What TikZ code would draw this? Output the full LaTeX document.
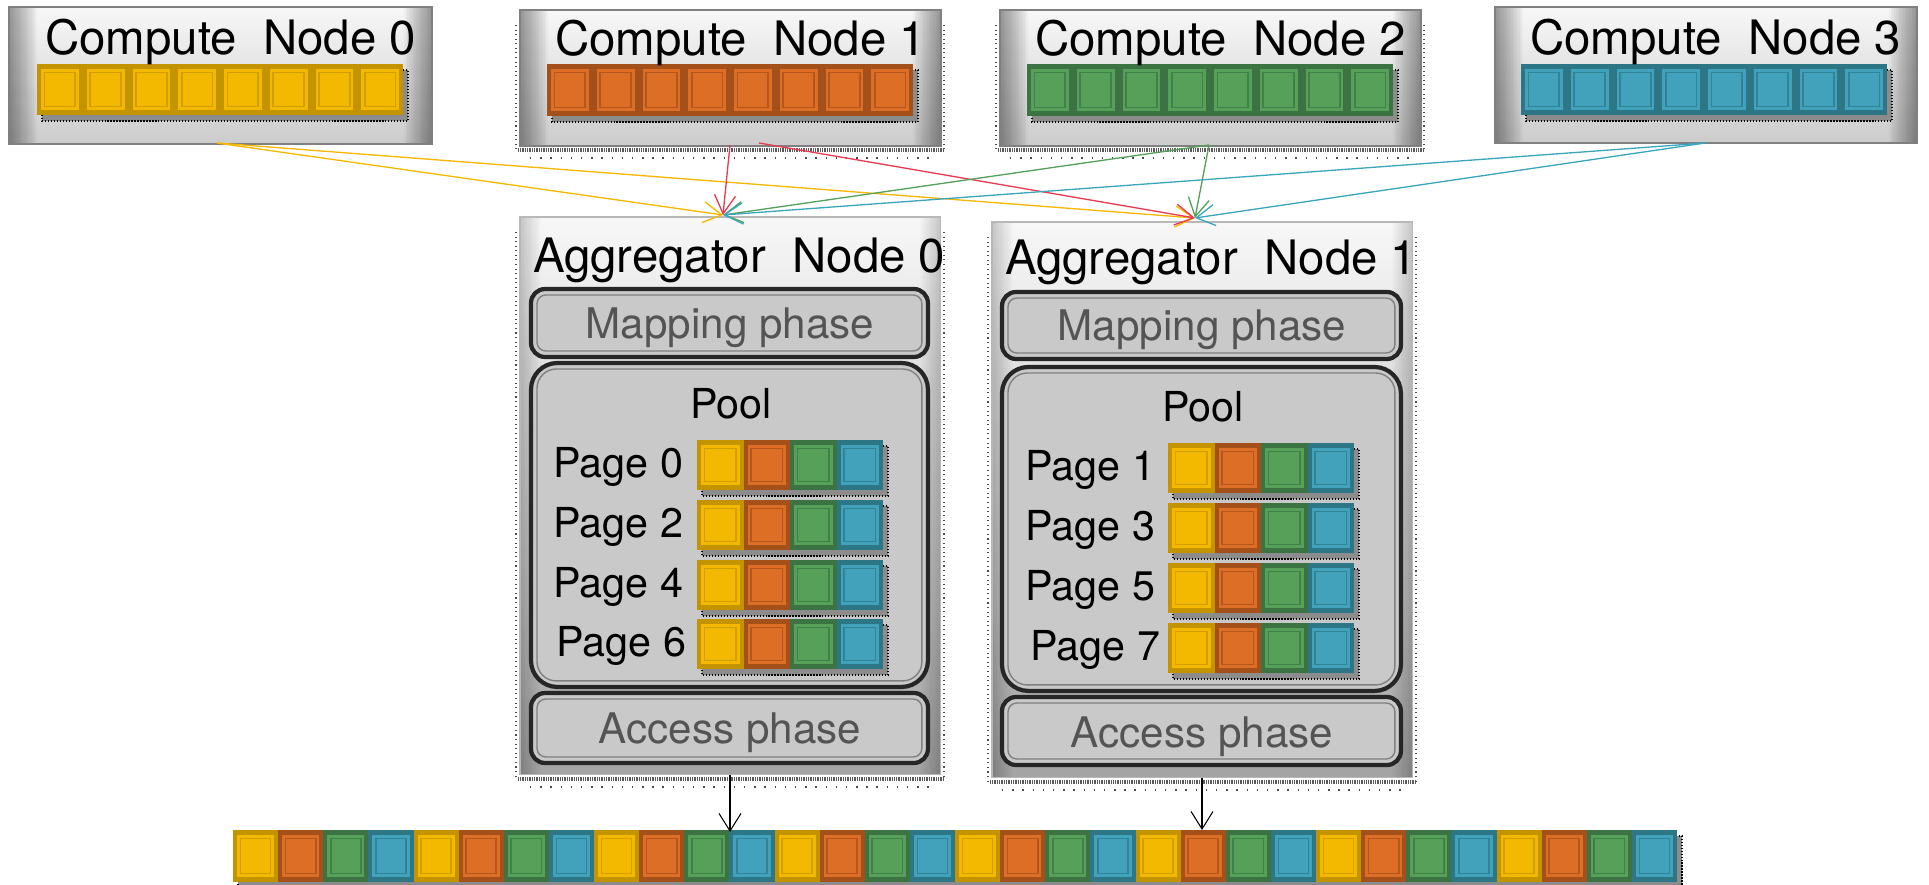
\documentclass[tikz,border=0pt]{standalone}
\usepackage{fontspec}
\setmainfont{TeX Gyre Heros}
\usetikzlibrary{arrows.meta}
\definecolor{D-Y}{HTML}{C39400}
\definecolor{L-Y}{HTML}{F3B800}
\definecolor{M-Y}{HTML}{D29E00}
\definecolor{D-O}{HTML}{A3501B}
\definecolor{L-O}{HTML}{DC6E25}
\definecolor{M-O}{HTML}{B5571D}
\definecolor{D-G}{HTML}{3B7342}
\definecolor{L-G}{HTML}{56A05A}
\definecolor{M-G}{HTML}{42804A}
\definecolor{D-B}{HTML}{2C7686}
\definecolor{L-B}{HTML}{42A2BB}
\definecolor{M-B}{HTML}{318495}
\definecolor{cY}{HTML}{F5B700}
\definecolor{cR}{HTML}{E83A50}
\definecolor{cG}{HTML}{55A05A}
\definecolor{cB}{HTML}{3AA6BE}
% one coloured block: x y w h colour-letter
\newcommand\blk[5]{%
  \fill[D-#5] (#1,#2) rectangle ++(#3,#4);
  \fill[L-#5] (#1+4,#2+5) rectangle (#1+#3-4,#2+#4-5);
  \draw[M-#5, line width=0.9pt] (#1+7.5,#2+8.5) rectangle (#1+#3-7.5,#2+#4-8.5);}
% drop shadow under a row of blocks
\newcommand\rowshadow[4]{%
  \fill[black!45] (#1+5,#2+6) rectangle (#3+5,#4+6);
  \draw[black, densely dotted, line width=0.7pt] (#1+5,#2+6) rectangle (#3+5,#4+6);}
% dotted frame round a box
\newcommand\dotframe[4]{%
  \draw[black!70, dotted, line width=0.6pt] (#1-4,#2+15) -- (#1-4,#4+4) (#3+3,#2+15) -- (#3+3,#4+4);
  \draw[black!65, dash pattern=on 0.5pt off 0.5pt, line width=2.5pt] (#1-2,#4+4) -- (#3+3,#4+4);
  \draw[black!70, dash pattern=on 0.8pt off 5pt, line width=0.8pt] (#1+10,#4+12) -- (#3-10,#4+12);}
% inner thin line of a phase / pool box
\newcommand\innerline[2]{%
  \draw[black!50, line width=0.8pt, rounded corners=#2]
    ([shift={(6,6)}]#1.north west) rectangle ([shift={(-6,-6)}]#1.south east);}
\tikzset{
  cbox/.style={anchor=north west, inner sep=0pt, outer sep=0pt, draw=black!50, line width=0.8pt,
    top color=black!3, bottom color=black!20,
    path picture={\foreach \w in {2,4,...,32}{\draw[black, opacity=0.026, line width=\w pt]
      (path picture bounding box.south west) -- (path picture bounding box.north west)
      (path picture bounding box.south east) -- (path picture bounding box.north east);}}},
  abox/.style={anchor=north west, inner sep=0pt, outer sep=0pt, draw=black!28, line width=0.6pt,
    top color=black!3, bottom color=black!36,
    path picture={\foreach \w in {2,4,...,24}{\draw[black, opacity=0.015, line width=\w pt]
      (path picture bounding box.south west) -- (path picture bounding box.north west)
      (path picture bounding box.south east) -- (path picture bounding box.north east);}}},
  phase/.style={anchor=north west, inner sep=0pt, outer sep=0pt, draw=black!85, line width=2.4pt,
    fill=black!21, rounded corners=8pt},
  pool/.style={phase, rounded corners=15pt},
  ttl/.style={font=\fontsize{27}{30}\selectfont, inner sep=0pt, outer sep=0pt},
  phs/.style={font=\fontsize{24}{28}\selectfont, text=black!67, inner sep=0pt, outer sep=0pt},
  lbl/.style={font=\fontsize{23.5}{27}\selectfont, inner sep=0pt, outer sep=0pt},
  conn/.style={line width=0.75pt, -{Straight Barb[length=10.5pt, width=12pt]}},
  down/.style={black, line width=0.6pt, -{Straight Barb[length=10pt, width=12.5pt]}}
}
\begin{document}
\begin{tikzpicture}[x=0.02cm, y=-0.02cm]
\useasboundingbox (0,0) rectangle (1929,885);
% ---------- compute nodes ----------
\dotframe{520}{10}{941}{146}
\dotframe{1000}{10}{1421}{146}
\node[cbox, minimum width=8.46cm, minimum height=2.74cm] (cn0) at (9,7) {};
\node[cbox, minimum width=8.42cm, minimum height=2.72cm] (cn1) at (520,10) {};
\node[cbox, minimum width=8.42cm, minimum height=2.72cm] (cn2) at (1000,10) {};
\node[cbox, minimum width=8.44cm, minimum height=2.72cm] (cn3) at (1495,7) {};
\rowshadow{37}{64}{403}{115}
\rowshadow{547}{64}{913}{116}
\rowshadow{1027}{64}{1393}{116}
\rowshadow{1521}{64}{1887}{115}
\foreach \i in {0,...,7}{
  \blk{37+\i*45.75}{64}{45.75}{51}{Y}
  \blk{547+\i*45.75}{64}{45.75}{52}{O}
  \blk{1027+\i*45.75}{64}{45.75}{52}{G}
  \blk{1521+\i*45.75}{64}{45.75}{51}{B}
}
\node[ttl, anchor=base west] (tc0) at (45,55) {Compute\ \ Node 0};
\node[ttl, anchor=base west] (tc1) at (555,56) {Compute\ \ Node 1};
\node[ttl, anchor=base west] (tc2) at (1035,56) {Compute\ \ Node 2};
\node[ttl, anchor=base west] (tc3) at (1530,55) {Compute\ \ Node 3};
% ---------- aggregator nodes ----------
\dotframe{520}{217}{941}{775}
\dotframe{992}{222}{1413}{778}
\node[abox, minimum width=8.42cm, minimum height=11.16cm] (ag0) at (520,217) {};
\node[abox, minimum width=8.42cm, minimum height=11.12cm] (ag1) at (992,222) {};
\node[ttl, anchor=base west] (ta0) at (533,272) {Aggregator\ \ Node 0};
\node[ttl, anchor=base west] (ta1) at (1005,274) {Aggregator\ \ Node 1};
% phases and pools
\node[phase, minimum width=7.94cm, minimum height=1.36cm] (map0) at (531,289) {};
\node[pool,  minimum width=7.94cm, minimum height=6.48cm] (pool0) at (531,363) {};
\node[phase, minimum width=7.94cm, minimum height=1.40cm] (acc0) at (531,693) {};
\node[phase, minimum width=7.98cm, minimum height=1.34cm] (map1) at (1002,292) {};
\node[pool,  minimum width=7.98cm, minimum height=6.48cm] (pool1) at (1002,367) {};
\node[phase, minimum width=7.98cm, minimum height=1.36cm] (acc1) at (1002,697) {};
\innerline{map0}{5pt}\innerline{pool0}{11pt}\innerline{acc0}{5pt}
\innerline{map1}{5pt}\innerline{pool1}{11pt}\innerline{acc1}{5pt}
\node[phs, anchor=base] (tm0) at (730,338) {Mapping phase};
\node[phs, anchor=base] (tx0) at (730,743) {Access phase};
\node[phs, anchor=base] (tm1) at (1202,340) {Mapping phase};
\node[phs, anchor=base] (tx1) at (1202,747) {Access phase};
\node[lbl, anchor=base] (tp0) at (731,418) {Pool};
\node[lbl, anchor=base] (tp1) at (1203,421) {Pool};
% pages of aggregator 0
\foreach \t/\lab/\bx in {440/0/683, 500/2/683, 560/4/683, 619/6/686}{
  \rowshadow{697}{\t}{883}{\t+50}
  \foreach \c [count=\k from 0] in {Y,O,G,B}{\blk{697+\k*46.5}{\t}{46.5}{50}{\c}}
  \node[lbl, anchor=base east] (pg\lab) at (\bx,\t+37) {Page \lab};
}
% pages of aggregator 1
\foreach \t/\lab/\bx in {443/1/1155, 503/3/1155, 563/5/1155, 623/7/1160}{
  \rowshadow{1168}{\t}{1354}{\t+50}
  \foreach \c [count=\k from 0] in {Y,O,G,B}{\blk{1168+\k*46.5}{\t}{46.5}{50}{\c}}
  \node[lbl, anchor=base east] (pg\lab) at (\bx,\t+37) {Page \lab};
}
% ---------- output row ----------
\rowshadow{233}{830}{1677}{882}
\foreach \j in {0,...,7}{
  \foreach \c [count=\k from 0] in {Y,O,G,B}{\blk{233+\j*180.5+\k*45.125}{830}{45.125}{52}{\c}}
}
\coordinate (out0) at (730,832);
\coordinate (out1) at (1202,830);
% ---------- connectors ----------
\coordinate (c0) at (217,143);
\coordinate (c1a) at (730,145);
\coordinate (c1b) at (759,143);
\coordinate (c2) at (1209,145);
\coordinate (c3) at (1705,143);
\coordinate (in0) at (723,215);
\coordinate (in1) at (1195,218);
\draw[conn, cY] (c0) -- (in0);
\draw[conn, cY] (c0) -- (in1);
\draw[conn, cR] (c1a) -- (in0);
\draw[conn, cR] (c1b) -- (in1);
\draw[conn, cG] (c2) -- (in0);
\draw[conn, cG] (c2) -- (in1);
\draw[conn, cB] (c3) -- (in0);
\draw[conn, cB] (c3) -- (in1);
\draw[down] (ag0.south -| out0) -- (out0);
\draw[down] (ag1.south -| out1) -- (out1);
\end{tikzpicture}
\end{document}
